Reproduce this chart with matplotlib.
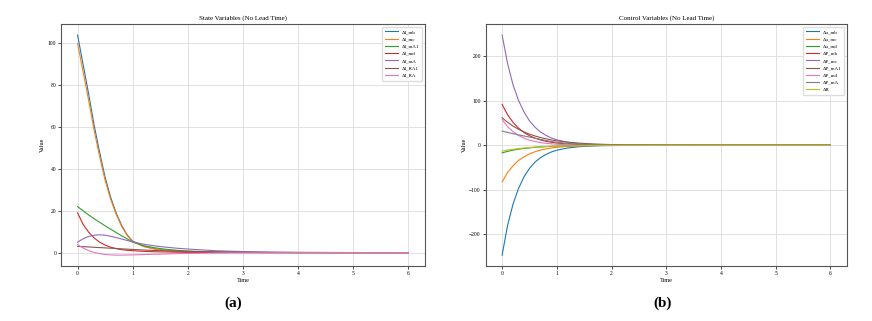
import matplotlib
matplotlib.use("Agg")
import matplotlib.pyplot as plt

plt.rcParams['font.family'] = ['Liberation Serif', 'DejaVu Serif']

time = [0, 0.1, 0.2, 0.3, 0.4, 0.5, 0.6, 0.7, 0.8, 0.9, 1.0,
        1.2, 1.4, 1.6, 1.8, 2.0, 2.5, 3.0, 3.5, 4.0, 5.0, 6.0]

# State variables
state_labels = ['ΔI_mb', 'ΔI_mc', 'ΔI_mA1', 'ΔI_md', 'ΔI_mA', 'ΔI_RA1', 'ΔI_RA']
dI_mb = [104, 90, 76, 61, 48, 36, 26.5, 19, 13, 8.5, 5.5,
         3.0, 1.8, 1.1, 0.7, 0.45, 0.15, 0.05, 0.02, 0, 0, 0]
dI_mc = [100, 86.5, 73, 58.5, 46, 34.5, 25.5, 18.3, 12.5, 8.2, 5.3,
         2.9, 1.7, 1.0, 0.65, 0.4, 0.14, 0.05, 0.02, 0, 0, 0]
dI_mA1 = [22, 20, 18, 16.2, 14.5, 12.8, 11.2, 9.6, 8.0, 6.6, 5.0,
          3.3, 2.3, 1.6, 1.1, 0.75, 0.3, 0.1, 0.04, 0.02, 0, 0]
dI_md = [19, 13.5, 9.8, 7.0, 5.0, 3.6, 2.6, 1.9, 1.4, 1.1, 0.9,
         0.6, 0.4, 0.3, 0.2, 0.15, 0.05, 0.02, 0, 0, 0, 0]
dI_mA = [5, 6.6, 7.7, 8.3, 8.5, 8.3, 7.8, 7.2, 6.5, 5.8, 5.1,
         4.0, 3.2, 2.6, 2.1, 1.7, 0.9, 0.5, 0.25, 0.12, 0.03, 0]
dI_RA1 = [3.0, 2.85, 2.7, 2.55, 2.4, 2.25, 2.1, 1.95, 1.8, 1.65, 1.5,
          1.25, 1.0, 0.85, 0.7, 0.55, 0.3, 0.15, 0.08, 0.05, 0, 0]
dI_RA = [3.8, 2.2, 1.0, 0.1, -0.5, -0.9, -1.1, -1.2, -1.2, -1.15, -1.1,
         -0.95, -0.8, -0.65, -0.5, -0.4, -0.2, -0.1, -0.05, -0.02, 0, 0]
state_series = [dI_mb, dI_mc, dI_mA1, dI_md, dI_mA, dI_RA1, dI_RA]

# Control variables
control_labels = ['Δu_mb', 'Δu_mc', 'Δu_md', 'ΔP_mb', 'ΔP_mc', 'ΔP_mA1', 'ΔP_md', 'ΔP_mA', 'ΔR']
du_mb = [-247, -180, -132, -97, -71, -52, -38, -28, -20.5, -15, -11,
         -6, -3.2, -1.7, -0.9, -0.5, -0.1, 0, 0, 0, 0, 0]
du_mc = [-82, -61, -46, -34, -26, -19.2, -14.4, -10.8, -8, -6, -4.5,
         -2.5, -1.4, -0.8, -0.4, -0.25, -0.05, 0, 0, 0, 0, 0]
du_md = [-17, -13.6, -10.9, -8.8, -7.0, -5.7, -4.5, -3.6, -2.9, -2.35, -1.9,
         -1.2, -0.8, -0.5, -0.3, -0.2, -0.07, 0, 0, 0, 0, 0]
dP_mb = [92, 69, 51.5, 38.6, 28.9, 21.6, 16.2, 12.1, 9.1, 6.8, 5.1,
         2.8, 1.6, 0.9, 0.5, 0.28, 0.06, 0, 0, 0, 0, 0]
dP_mc = [248, 184, 136, 101, 75, 55, 41, 30, 22.5, 16.6, 12.3,
         6.8, 3.7, 2.0, 1.1, 0.6, 0.14, 0.03, 0, 0, 0, 0]
dP_mA1 = [62, 51.8, 43.2, 36.1, 30.1, 25.2, 21, 17.6, 14.7, 12.2, 10.2,
          7.1, 5.0, 3.5, 2.4, 1.7, 0.7, 0.3, 0.1, 0.05, 0, 0]
dP_md = [58, 42, 30.6, 22.2, 16.2, 11.7, 8.5, 6.2, 4.5, 3.3, 2.4,
         1.25, 0.66, 0.35, 0.18, 0.1, 0.02, 0, 0, 0, 0, 0]
dP_mA = [32, 29, 26.2, 23.5, 21, 18.6, 16, 13.5, 11, 8.7, 6.8,
         4.4, 2.9, 1.9, 1.3, 0.9, 0.35, 0.15, 0.06, 0.02, 0, 0]
dR = [-13, -10.8, -9, -7.4, -6.1, -5, -4.1, -3.4, -2.8, -2.3, -1.9,
      -1.3, -0.9, -0.6, -0.4, -0.3, -0.1, -0.05, 0, 0, 0, 0]
control_series = [du_mb, du_mc, du_md, dP_mb, dP_mc, dP_mA1, dP_md, dP_mA, dR]

fig = plt.figure(figsize=(8.72, 3.21), dpi=100)
ax1 = fig.add_axes([0.070, 0.171, 0.417, 0.754])
ax2 = fig.add_axes([0.557, 0.171, 0.414, 0.754])

for ax, series, labels, title in [
        (ax1, state_series, state_labels, 'State Variables (No Lead Time)'),
        (ax2, control_series, control_labels, 'Control Variables (No Lead Time)')]:
    for s, lab in zip(series, labels):
        ax.plot(time, s, label=lab, lw=0.8)
    ax.set_title(title, fontsize=5, pad=3)
    ax.set_xlabel('Time', fontsize=4.5, labelpad=1.5)
    ax.set_ylabel('Value', fontsize=4.5, labelpad=2)
    ax.tick_params(labelsize=4, length=2, width=0.5, pad=1.5)
    ax.grid(True, color='#dcdcdc', lw=0.6)
    for sp in ax.spines.values():
        sp.set_linewidth(0.8)
        sp.set_color('#555555')
    ax.legend(fontsize=3.6, loc='upper right', framealpha=1, edgecolor='#dddddd',
              handlelength=2.6, labelspacing=0.55, borderpad=0.6)

ax1.set_yticks([0, 20, 40, 60, 80, 100])
ax2.set_yticks([-200, -100, 0, 100, 200])
ax1.set_xticks([0, 1, 2, 3, 4, 5, 6])
ax2.set_xticks([0, 1, 2, 3, 4, 5, 6])

fig.text(0.267, 0.055, '(a)', fontsize=11, fontweight='bold', ha='center', va='center')
fig.text(0.760, 0.055, '(b)', fontsize=11, fontweight='bold', ha='center', va='center')

fig.savefig('out.png', dpi=100)
